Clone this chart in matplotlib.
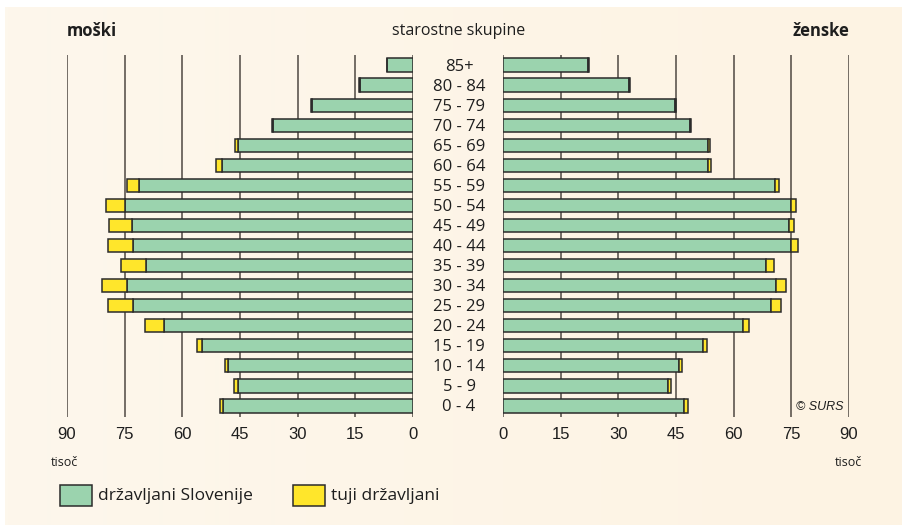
import numpy as np
import matplotlib
matplotlib.use('Agg')
import matplotlib.pyplot as plt
import matplotlib.transforms as mtrans

# starostne skupine, od spodaj navzgor
skupine = ['0 - 4', '5 - 9', '10 - 14', '15 - 19', '20 - 24', '25 - 29', '30 - 34',
           '35 - 39', '40 - 44', '45 - 49', '50 - 54', '55 - 59', '60 - 64',
           '65 - 69', '70 - 74', '75 - 79', '80 - 84', '85+']

# tisoc prebivalcev
moski_slo = [49.3, 45.5, 48.0, 54.9, 64.8, 72.8, 74.3, 69.5, 72.8, 73.1, 74.8, 71.3,
             49.6, 45.4, 36.5, 26.4, 13.8, 6.7]
moski_tuji = [0.9, 1.0, 1.0, 1.2, 5.0, 6.5, 6.6, 6.5, 6.6, 6.1, 5.0, 3.0,
              1.6, 1.0, 0.3, 0.2, 0.2, 0.1]
zenske_slo = [47.1, 42.9, 45.7, 52.0, 62.3, 69.8, 71.1, 68.4, 74.8, 74.4, 75.0, 70.7,
              53.4, 53.4, 48.6, 44.7, 32.8, 22.2]
zenske_tuji = [1.0, 0.9, 0.9, 1.0, 1.7, 2.4, 2.6, 2.2, 1.9, 1.4, 1.3, 1.0,
               0.7, 0.5, 0.3, 0.3, 0.3, 0.2]

ticks = [0, 15, 30, 45, 60, 75, 90]

zelena = '#9bd3ae'
rumena = '#ffe62b'
rob = '#2b2b2b'
mreza = '#4f4842'
besedilo = '#1e1e1e'
txt_font = ['Open Sans', 'DejaVu Sans']
num_font = ['Liberation Sans', 'DejaVu Sans']

W, H = 902, 525
fig = plt.figure(figsize=(W / 100, H / 100), dpi=100, facecolor='white')

# ozadje (rahel prehod barve)
bg = fig.add_axes([5 / W, 0, (W - 5) / W, (H - 7) / H], zorder=-10)
grad = np.linspace(0, 1, 256)
c1 = np.array([253, 247, 236]) / 255.
c2 = np.array([253, 243, 227]) / 255.
img = c1[None, :] * (1 - grad[:, None]) + c2[None, :] * grad[:, None]
bg.imshow(img[None, :, :], aspect='auto', extent=[0, 1, 0, 1])
bg.axis('off')

y = np.arange(len(skupine))
vis = 0.66
ax_bot, ax_top = 417, 55


def panel(x0, x1):
    ax = fig.add_axes([x0 / W, (H - ax_bot) / H, (x1 - x0) / W, (ax_bot - ax_top) / H])
    ax.set_facecolor('none')
    ax.set_xlim(0, 90)
    ax.set_ylim(-0.55, 17.5)
    for s in ax.spines.values():
        s.set_visible(False)
    ax.set_yticks([])
    ax.set_xticks(ticks)
    ax.set_xticklabels([str(t) for t in ticks], fontsize=12, family=num_font, color=besedilo)
    ax.tick_params(axis='x', length=0, pad=7.5)
    for t in ticks:
        ax.axvline(t, color=mreza, lw=1.1, zorder=0)
    return ax


ax1 = panel(67, 413)
ax1.invert_xaxis()
ax1.barh(y, moski_slo, height=vis, color=zelena, edgecolor=rob, lw=1.1, zorder=3)
ax1.barh(y, moski_tuji, left=moski_slo, height=vis, color=rumena, edgecolor=rob, lw=1.1, zorder=3)

ax2 = panel(503, 849)
ax2.barh(y, zenske_slo, height=vis, color=zelena, edgecolor=rob, lw=1.1, zorder=3)
ax2.barh(y, zenske_tuji, left=zenske_slo, height=vis, color=rumena, edgecolor=rob, lw=1.1, zorder=3)

# oznake starostnih skupin na sredini
tr = mtrans.blended_transform_factory(fig.transFigure, ax1.transData)
tr = mtrans.offset_copy(tr, fig=fig, y=-1.5, units='dots')
for i, s in enumerate(skupine):
    fig.text(459 / W, y[i], s, transform=tr, ha='center', va='center',
             fontsize=12, family=txt_font, color=besedilo)

fig.text(67 / W, 1 - 31 / H, 'moški', ha='left', va='center', fontsize=12,
         fontweight='bold', family=txt_font, color=besedilo)
fig.text(849 / W, 1 - 31 / H, 'ženske', ha='right', va='center', fontsize=12,
         fontweight='bold', family=txt_font, color=besedilo)
fig.text(459 / W, 1 - 31 / H, 'starostne skupine', ha='center', va='center',
         fontsize=11.5, family=txt_font, color=besedilo)

fig.text(64 / W, 1 - 463 / H, 'tisoč', ha='center', va='center', fontsize=9,
         family=txt_font, color=besedilo)
fig.text(848 / W, 1 - 463 / H, 'tisoč', ha='center', va='center', fontsize=9,
         family=txt_font, color=besedilo)
fig.text(843 / W, 1 - 407 / H, '© SURS', ha='right', va='center', fontsize=9,
         style='italic', family=num_font, color=besedilo)

# legenda
leg = fig.add_axes([0, 0, 1, 1], zorder=5)
leg.set_xlim(0, W)
leg.set_ylim(H, 0)
leg.axis('off')
leg.add_patch(plt.Rectangle((60, 485), 32, 21, facecolor=zelena, edgecolor=rob, lw=1.1))
leg.text(98, 495.5, 'državljani Slovenije', ha='left', va='center', fontsize=12.5,
         family=txt_font, color=besedilo)
leg.add_patch(plt.Rectangle((293, 485), 32, 21, facecolor=rumena, edgecolor=rob, lw=1.1))
leg.text(331, 495.5, 'tuji državljani', ha='left', va='center', fontsize=12.5,
         family=txt_font, color=besedilo)

plt.savefig('out.png', dpi=100, facecolor='white')
